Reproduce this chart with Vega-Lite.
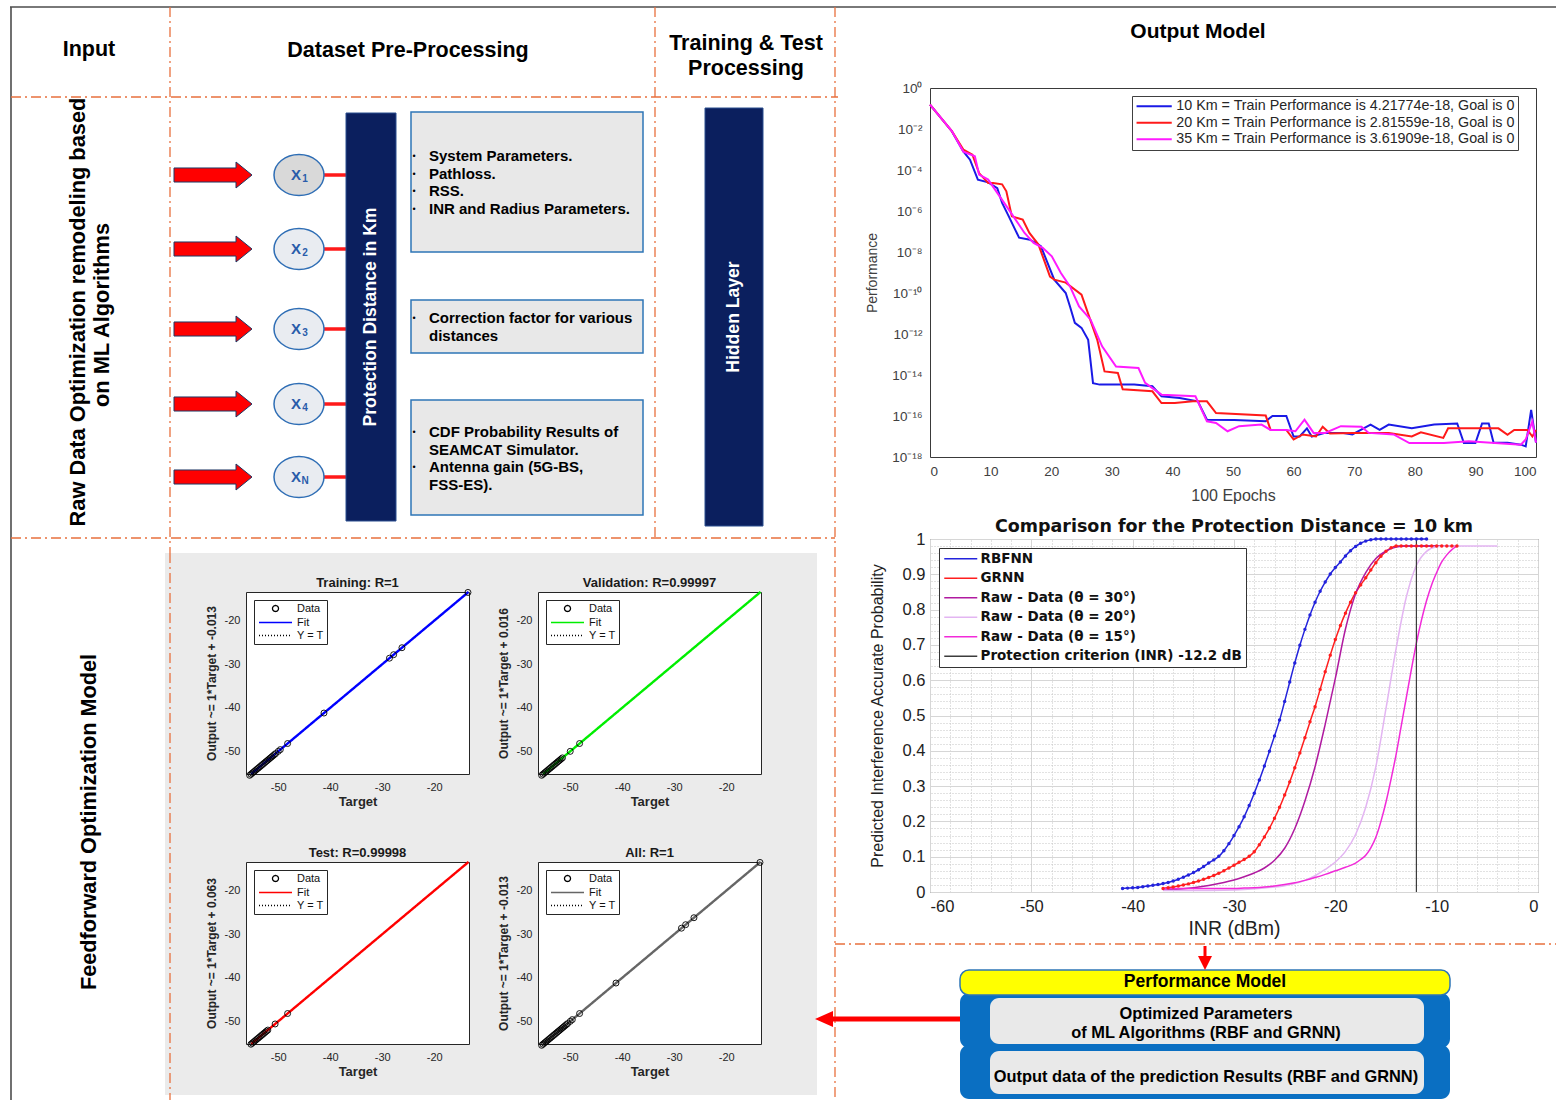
{
"$schema":"https://vega.github.io/schema/vega-lite/v6.json",
"padding":0,
"background":"white",
"bounds":"flush",
"spacing":930,
"config":{"view":{"stroke":null},"font":"Liberation Sans","axis":{"labelFont":"Liberation Sans","titleFont":"Liberation Sans"},"legend":{"labelFont":"Liberation Sans"},"title":{"font":"Liberation Sans"}},
"resolve":{"scale":{"color":"independent","shape":"independent","strokeDash":"independent","size":"independent"},"legend":{"color":"independent","shape":"independent","strokeDash":"independent","size":"independent"}},
"datasets":{
"perf":[
{"s":"10 Km","e":0,"p":1.55e-1},{"s":"10 Km","e":3.6,"p":7.8e-3},{"s":"10 Km","e":5.5,"p":8.1e-4},{"s":"10 Km","e":6.6,"p":3.2e-4},{"s":"10 Km","e":7.9,"p":3.4e-5},{"s":"10 Km","e":9.6,"p":2.5e-5},{"s":"10 Km","e":11.1,"p":1.3e-5},{"s":"10 Km","e":11.9,"p":2.5e-6},{"s":"10 Km","e":13,"p":5.5e-7},{"s":"10 Km","e":14.7,"p":5.0e-8},{"s":"10 Km","e":16.5,"p":4.0e-8},{"s":"10 Km","e":18.3,"p":1.9e-8},{"s":"10 Km","e":20.5,"p":4.5e-10},{"s":"10 Km","e":22.4,"p":1.0e-10},{"s":"10 Km","e":23.1,"p":2.2e-11},{"s":"10 Km","e":23.9,"p":3.5e-12},{"s":"10 Km","e":25,"p":2.0e-12},{"s":"10 Km","e":26.1,"p":5.2e-13},{"s":"10 Km","e":26.9,"p":4.0e-15},{"s":"10 Km","e":28,"p":3.4e-15},{"s":"10 Km","e":33.7,"p":3.4e-15},{"s":"10 Km","e":36.7,"p":2.8e-15},{"s":"10 Km","e":38.2,"p":9.1e-16},{"s":"10 Km","e":41.2,"p":7.6e-16},{"s":"10 Km","e":44.2,"p":5.2e-16},{"s":"10 Km","e":45.7,"p":6.6e-17},{"s":"10 Km","e":50.2,"p":6.3e-17},{"s":"10 Km","e":55.4,"p":5.5e-17},{"s":"10 Km","e":56.5,"p":1.0e-16},{"s":"10 Km","e":58.8,"p":1.0e-16},{"s":"10 Km","e":60,"p":1.0e-17},{"s":"10 Km","e":61,"p":1.0e-17},{"s":"10 Km","e":62.2,"p":2.5e-17},{"s":"10 Km","e":63,"p":1.0e-17},{"s":"10 Km","e":65.2,"p":1.5e-17},{"s":"10 Km","e":68.2,"p":1.5e-17},{"s":"10 Km","e":69.7,"p":1.26e-17},{"s":"10 Km","e":72.7,"p":3.8e-17},{"s":"10 Km","e":74.2,"p":2.1e-17},{"s":"10 Km","e":75.7,"p":3.8e-17},{"s":"10 Km","e":79.5,"p":2.5e-17},{"s":"10 Km","e":83.2,"p":3.8e-17},{"s":"10 Km","e":87,"p":4.3e-17},{"s":"10 Km","e":88.1,"p":4.8e-18},{"s":"10 Km","e":90,"p":4.8e-18},{"s":"10 Km","e":91.1,"p":4.3e-17},{"s":"10 Km","e":92.2,"p":4.3e-17},{"s":"10 Km","e":93,"p":5.0e-18},{"s":"10 Km","e":95.3,"p":5.0e-18},{"s":"10 Km","e":97.5,"p":4.0e-18},{"s":"10 Km","e":98.3,"p":3.3e-18},{"s":"10 Km","e":99.2,"p":2.0e-16},{"s":"10 Km","e":100,"p":5.0e-18},
{"s":"20 Km","e":0,"p":1.55e-1},{"s":"20 Km","e":3.6,"p":7.9e-3},{"s":"20 Km","e":5.5,"p":1.0e-3},{"s":"20 Km","e":7,"p":5.6e-4},{"s":"20 Km","e":8.1,"p":7.1e-5},{"s":"20 Km","e":9.6,"p":2.3e-5},{"s":"20 Km","e":10.4,"p":2.3e-5},{"s":"20 Km","e":11.9,"p":2.0e-5},{"s":"20 Km","e":12.6,"p":9.1e-6},{"s":"20 Km","e":13.5,"p":5.5e-7},{"s":"20 Km","e":15.3,"p":3.8e-7},{"s":"20 Km","e":16.4,"p":8.5e-8},{"s":"20 Km","e":17.9,"p":2.3e-8},{"s":"20 Km","e":19.8,"p":6.3e-10},{"s":"20 Km","e":20.5,"p":4.5e-10},{"s":"20 Km","e":22.4,"p":3.2e-10},{"s":"20 Km","e":25,"p":8.3e-11},{"s":"20 Km","e":27.6,"p":5.2e-13},{"s":"20 Km","e":28.8,"p":1.5e-14},{"s":"20 Km","e":31,"p":1.26e-14},{"s":"20 Km","e":31.8,"p":2.0e-15},{"s":"20 Km","e":36.7,"p":1.6e-15},{"s":"20 Km","e":38.2,"p":4.3e-16},{"s":"20 Km","e":40.4,"p":4.3e-16},{"s":"20 Km","e":43.4,"p":5.2e-16},{"s":"20 Km","e":45.7,"p":5.2e-16},{"s":"20 Km","e":47.2,"p":1.4e-16},{"s":"20 Km","e":55.4,"p":1.05e-16},{"s":"20 Km","e":56.2,"p":2.1e-17},{"s":"20 Km","e":58.8,"p":2.1e-17},{"s":"20 Km","e":60,"p":7.1e-18},{"s":"20 Km","e":61.5,"p":1.26e-17},{"s":"20 Km","e":63.7,"p":1.0e-17},{"s":"20 Km","e":64.8,"p":3.0e-17},{"s":"20 Km","e":66,"p":1.4e-17},{"s":"20 Km","e":69.7,"p":1.5e-17},{"s":"20 Km","e":75.7,"p":1.5e-17},{"s":"20 Km","e":79.5,"p":1.0e-17},{"s":"20 Km","e":81,"p":1.6e-17},{"s":"20 Km","e":84.7,"p":8.5e-18},{"s":"20 Km","e":85.5,"p":2.5e-17},{"s":"20 Km","e":93.8,"p":2.5e-17},{"s":"20 Km","e":95.3,"p":1.2e-17},{"s":"20 Km","e":96.4,"p":2.1e-17},{"s":"20 Km","e":98.6,"p":2.1e-17},{"s":"20 Km","e":99.4,"p":1.0e-17},{"s":"20 Km","e":100,"p":2.1e-17},
{"s":"35 Km","e":0,"p":1.55e-1},{"s":"35 Km","e":3.6,"p":7.9e-3},{"s":"35 Km","e":5.5,"p":7.9e-4},{"s":"35 Km","e":7.4,"p":4.7e-4},{"s":"35 Km","e":8.1,"p":5.9e-5},{"s":"35 Km","e":9.6,"p":3.4e-5},{"s":"35 Km","e":11.5,"p":5.2e-6},{"s":"35 Km","e":13.4,"p":7.9e-7},{"s":"35 Km","e":15.6,"p":8.5e-8},{"s":"35 Km","e":17.1,"p":2.8e-8},{"s":"35 Km","e":18.6,"p":1.6e-8},{"s":"35 Km","e":20.1,"p":6.2e-9},{"s":"35 Km","e":21.6,"p":9.5e-10},{"s":"35 Km","e":23.1,"p":2.1e-10},{"s":"35 Km","e":24.6,"p":2.2e-11},{"s":"35 Km","e":26.5,"p":5.0e-12},{"s":"35 Km","e":28.4,"p":2.5e-13},{"s":"35 Km","e":30.7,"p":2.6e-14},{"s":"35 Km","e":34.4,"p":2.2e-14},{"s":"35 Km","e":35.5,"p":4.1e-15},{"s":"35 Km","e":38.2,"p":1.1e-15},{"s":"35 Km","e":43.8,"p":9.1e-16},{"s":"35 Km","e":45.7,"p":5.5e-17},{"s":"35 Km","e":47.2,"p":4.6e-17},{"s":"35 Km","e":49.1,"p":1.8e-17},{"s":"35 Km","e":51,"p":3.2e-17},{"s":"35 Km","e":54.7,"p":3.8e-17},{"s":"35 Km","e":56.2,"p":2.1e-17},{"s":"35 Km","e":58.8,"p":2.1e-17},{"s":"35 Km","e":60.3,"p":1.8e-17},{"s":"35 Km","e":61.8,"p":6.6e-17},{"s":"35 Km","e":63.3,"p":1.5e-17},{"s":"35 Km","e":65.2,"p":1.5e-17},{"s":"35 Km","e":67.8,"p":3.2e-17},{"s":"35 Km","e":71.2,"p":3.0e-17},{"s":"35 Km","e":72.4,"p":1.5e-17},{"s":"35 Km","e":76.5,"p":1.26e-17},{"s":"35 Km","e":79.1,"p":4.8e-18},{"s":"35 Km","e":84.8,"p":4.8e-18},{"s":"35 Km","e":88.9,"p":5.8e-18},{"s":"35 Km","e":97.5,"p":4.0e-18},{"s":"35 Km","e":98.3,"p":7.1e-18},{"s":"35 Km","e":99.4,"p":5.5e-17},{"s":"35 Km","e":100,"p":5.0e-18}
],
"cdf":[
{"s":"RBFNN","x":-41,"y":0.010},{"s":"RBFNN","x":-40.5,"y":0.011},{"s":"RBFNN","x":-40,"y":0.012},{"s":"RBFNN","x":-39.5,"y":0.013},{"s":"RBFNN","x":-39,"y":0.015},{"s":"RBFNN","x":-38.5,"y":0.017},{"s":"RBFNN","x":-38,"y":0.019},{"s":"RBFNN","x":-37.5,"y":0.021},{"s":"RBFNN","x":-37,"y":0.024},{"s":"RBFNN","x":-36.5,"y":0.027},{"s":"RBFNN","x":-36,"y":0.031},{"s":"RBFNN","x":-35.5,"y":0.036},{"s":"RBFNN","x":-35,"y":0.042},{"s":"RBFNN","x":-34.5,"y":0.048},{"s":"RBFNN","x":-34,"y":0.055},{"s":"RBFNN","x":-33.5,"y":0.063},{"s":"RBFNN","x":-33,"y":0.072},{"s":"RBFNN","x":-32.5,"y":0.082},{"s":"RBFNN","x":-32,"y":0.091},{"s":"RBFNN","x":-31.5,"y":0.101},{"s":"RBFNN","x":-31,"y":0.117},{"s":"RBFNN","x":-30.5,"y":0.137},{"s":"RBFNN","x":-30,"y":0.160},{"s":"RBFNN","x":-29.5,"y":0.185},{"s":"RBFNN","x":-29,"y":0.213},{"s":"RBFNN","x":-28.5,"y":0.245},{"s":"RBFNN","x":-28,"y":0.280},{"s":"RBFNN","x":-27.5,"y":0.317},{"s":"RBFNN","x":-27,"y":0.357},{"s":"RBFNN","x":-26.5,"y":0.399},{"s":"RBFNN","x":-26,"y":0.442},{"s":"RBFNN","x":-25.5,"y":0.487},{"s":"RBFNN","x":-25,"y":0.540},{"s":"RBFNN","x":-24.5,"y":0.595},{"s":"RBFNN","x":-24,"y":0.649},{"s":"RBFNN","x":-23.5,"y":0.699},{"s":"RBFNN","x":-23,"y":0.744},{"s":"RBFNN","x":-22.5,"y":0.785},{"s":"RBFNN","x":-22,"y":0.821},{"s":"RBFNN","x":-21.5,"y":0.852},{"s":"RBFNN","x":-21,"y":0.878},{"s":"RBFNN","x":-20.5,"y":0.901},{"s":"RBFNN","x":-20,"y":0.919},{"s":"RBFNN","x":-19.5,"y":0.935},{"s":"RBFNN","x":-19,"y":0.952},{"s":"RBFNN","x":-18.5,"y":0.967},{"s":"RBFNN","x":-18,"y":0.979},{"s":"RBFNN","x":-17.5,"y":0.988},{"s":"RBFNN","x":-17,"y":0.994},{"s":"RBFNN","x":-16.5,"y":0.998},{"s":"RBFNN","x":-16,"y":1},{"s":"RBFNN","x":-15.5,"y":1},{"s":"RBFNN","x":-15,"y":1},{"s":"RBFNN","x":-14.5,"y":1},{"s":"RBFNN","x":-14,"y":1},{"s":"RBFNN","x":-13.5,"y":1},{"s":"RBFNN","x":-13,"y":1},{"s":"RBFNN","x":-12.5,"y":1},{"s":"RBFNN","x":-12,"y":1},{"s":"RBFNN","x":-11.5,"y":1},{"s":"RBFNN","x":-11,"y":1},
{"s":"GRNN","x":-37,"y":0.010},{"s":"GRNN","x":-36.5,"y":0.012},{"s":"GRNN","x":-36,"y":0.014},{"s":"GRNN","x":-35.5,"y":0.017},{"s":"GRNN","x":-35,"y":0.020},{"s":"GRNN","x":-34.5,"y":0.023},{"s":"GRNN","x":-34,"y":0.027},{"s":"GRNN","x":-33.5,"y":0.031},{"s":"GRNN","x":-33,"y":0.036},{"s":"GRNN","x":-32.5,"y":0.041},{"s":"GRNN","x":-32,"y":0.047},{"s":"GRNN","x":-31.5,"y":0.053},{"s":"GRNN","x":-31,"y":0.060},{"s":"GRNN","x":-30.5,"y":0.068},{"s":"GRNN","x":-30,"y":0.076},{"s":"GRNN","x":-29.5,"y":0.084},{"s":"GRNN","x":-29,"y":0.092},{"s":"GRNN","x":-28.5,"y":0.101},{"s":"GRNN","x":-28,"y":0.114},{"s":"GRNN","x":-27.5,"y":0.134},{"s":"GRNN","x":-27,"y":0.156},{"s":"GRNN","x":-26.5,"y":0.181},{"s":"GRNN","x":-26,"y":0.209},{"s":"GRNN","x":-25.5,"y":0.240},{"s":"GRNN","x":-25,"y":0.275},{"s":"GRNN","x":-24.5,"y":0.312},{"s":"GRNN","x":-24,"y":0.352},{"s":"GRNN","x":-23.5,"y":0.394},{"s":"GRNN","x":-23,"y":0.437},{"s":"GRNN","x":-22.5,"y":0.482},{"s":"GRNN","x":-22,"y":0.525},{"s":"GRNN","x":-21.5,"y":0.574},{"s":"GRNN","x":-21,"y":0.624},{"s":"GRNN","x":-20.5,"y":0.671},{"s":"GRNN","x":-20,"y":0.715},{"s":"GRNN","x":-19.5,"y":0.755},{"s":"GRNN","x":-19,"y":0.790},{"s":"GRNN","x":-18.5,"y":0.821},{"s":"GRNN","x":-18,"y":0.848},{"s":"GRNN","x":-17.5,"y":0.870},{"s":"GRNN","x":-17,"y":0.890},{"s":"GRNN","x":-16.5,"y":0.912},{"s":"GRNN","x":-16,"y":0.933},{"s":"GRNN","x":-15.5,"y":0.951},{"s":"GRNN","x":-15,"y":0.965},{"s":"GRNN","x":-14.5,"y":0.975},{"s":"GRNN","x":-14,"y":0.980},{"s":"GRNN","x":-13.5,"y":0.98},{"s":"GRNN","x":-13,"y":0.98},{"s":"GRNN","x":-12.5,"y":0.98},{"s":"GRNN","x":-12,"y":0.98},{"s":"GRNN","x":-11.5,"y":0.98},{"s":"GRNN","x":-11,"y":0.98},{"s":"GRNN","x":-10.5,"y":0.98},{"s":"GRNN","x":-10,"y":0.98},{"s":"GRNN","x":-9.5,"y":0.98},{"s":"GRNN","x":-9,"y":0.98},{"s":"GRNN","x":-8.5,"y":0.98},{"s":"GRNN","x":-8,"y":0.98},
{"s":"R30","x":-37,"y":0.005},{"s":"R30","x":-36,"y":0.007},{"s":"R30","x":-35,"y":0.009},{"s":"R30","x":-34,"y":0.012},{"s":"R30","x":-33,"y":0.016},{"s":"R30","x":-32,"y":0.021},{"s":"R30","x":-31,"y":0.027},{"s":"R30","x":-30,"y":0.034},{"s":"R30","x":-29,"y":0.043},{"s":"R30","x":-28,"y":0.054},{"s":"R30","x":-27,"y":0.068},{"s":"R30","x":-26,"y":0.090},{"s":"R30","x":-25,"y":0.124},{"s":"R30","x":-24,"y":0.180},{"s":"R30","x":-23,"y":0.258},{"s":"R30","x":-22,"y":0.355},{"s":"R30","x":-21,"y":0.475},{"s":"R30","x":-20,"y":0.605},{"s":"R30","x":-19,"y":0.745},{"s":"R30","x":-18.5,"y":0.800},{"s":"R30","x":-18,"y":0.845},{"s":"R30","x":-17,"y":0.905},{"s":"R30","x":-16,"y":0.945},{"s":"R30","x":-15,"y":0.966},{"s":"R30","x":-14,"y":0.977},{"s":"R30","x":-13,"y":0.980},{"s":"R30","x":-12,"y":0.98},{"s":"R30","x":-10,"y":0.98},{"s":"R30","x":-8,"y":0.98},
{"s":"R20","x":-37,"y":0.004},{"s":"R20","x":-34,"y":0.004},{"s":"R20","x":-31,"y":0.005},{"s":"R20","x":-29,"y":0.007},{"s":"R20","x":-27,"y":0.011},{"s":"R20","x":-26,"y":0.014},{"s":"R20","x":-25,"y":0.018},{"s":"R20","x":-24,"y":0.024},{"s":"R20","x":-23,"y":0.033},{"s":"R20","x":-22,"y":0.046},{"s":"R20","x":-21,"y":0.064},{"s":"R20","x":-20,"y":0.085},{"s":"R20","x":-19,"y":0.115},{"s":"R20","x":-18,"y":0.163},{"s":"R20","x":-17,"y":0.240},{"s":"R20","x":-16,"y":0.355},{"s":"R20","x":-15,"y":0.520},{"s":"R20","x":-14,"y":0.690},{"s":"R20","x":-13,"y":0.835},{"s":"R20","x":-12,"y":0.925},{"s":"R20","x":-11,"y":0.965},{"s":"R20","x":-10,"y":0.978},{"s":"R20","x":-9,"y":0.980},{"s":"R20","x":-7,"y":0.98},{"s":"R20","x":-4,"y":0.98},
{"s":"R15","x":-37,"y":0.010},{"s":"R15","x":-33,"y":0.010},{"s":"R15","x":-30,"y":0.010},{"s":"R15","x":-29,"y":0.011},{"s":"R15","x":-28,"y":0.012},{"s":"R15","x":-27,"y":0.014},{"s":"R15","x":-26,"y":0.017},{"s":"R15","x":-25,"y":0.021},{"s":"R15","x":-24,"y":0.026},{"s":"R15","x":-23,"y":0.033},{"s":"R15","x":-22,"y":0.041},{"s":"R15","x":-21,"y":0.050},{"s":"R15","x":-20,"y":0.060},{"s":"R15","x":-19,"y":0.070},{"s":"R15","x":-18,"y":0.082},{"s":"R15","x":-17.5,"y":0.092},{"s":"R15","x":-17,"y":0.104},{"s":"R15","x":-16.5,"y":0.125},{"s":"R15","x":-16,"y":0.155},{"s":"R15","x":-15.5,"y":0.200},{"s":"R15","x":-15,"y":0.255},{"s":"R15","x":-14.5,"y":0.320},{"s":"R15","x":-14,"y":0.390},{"s":"R15","x":-13.5,"y":0.470},{"s":"R15","x":-13,"y":0.550},{"s":"R15","x":-12.5,"y":0.630},{"s":"R15","x":-12,"y":0.705},{"s":"R15","x":-11.5,"y":0.770},{"s":"R15","x":-11,"y":0.825},{"s":"R15","x":-10.5,"y":0.870},{"s":"R15","x":-10,"y":0.905},{"s":"R15","x":-9.5,"y":0.935},{"s":"R15","x":-9,"y":0.955},{"s":"R15","x":-8.5,"y":0.970},{"s":"R15","x":-8,"y":0.980},
{"s":"PC","x":-12,"y":0},{"s":"PC","x":-12,"y":1}
],
"reglines":[{"k":"Fit","t":-55.2,"o":-55.2},{"k":"Fit","t":-13.4,"o":-13.4},{"k":"Y = T","t":-55.2,"o":-55.2},{"k":"Y = T","t":-13.4,"o":-13.4}],
"rtrain":[{"k":"Data","t":-55.5,"o":-55.5},{"k":"Data","t":-55.25,"o":-55.25},{"k":"Data","t":-55,"o":-55},{"k":"Data","t":-54.75,"o":-54.75},{"k":"Data","t":-54.5,"o":-54.5},{"k":"Data","t":-54.25,"o":-54.25},{"k":"Data","t":-54,"o":-54},{"k":"Data","t":-53.75,"o":-53.75},{"k":"Data","t":-53.5,"o":-53.5},{"k":"Data","t":-53.25,"o":-53.25},{"k":"Data","t":-53,"o":-53},{"k":"Data","t":-52.75,"o":-52.75},{"k":"Data","t":-52.5,"o":-52.5},{"k":"Data","t":-52.25,"o":-52.25},{"k":"Data","t":-52,"o":-52},{"k":"Data","t":-51.75,"o":-51.75},{"k":"Data","t":-51.5,"o":-51.5},{"k":"Data","t":-51.25,"o":-51.25},{"k":"Data","t":-51,"o":-51},{"k":"Data","t":-50.75,"o":-50.75},{"k":"Data","t":-50.5,"o":-50.5},{"k":"Data","t":-50,"o":-50},{"k":"Data","t":-49.6,"o":-49.6},{"k":"Data","t":-48.2,"o":-48.2},{"k":"Data","t":-41.2,"o":-41.2},{"k":"Data","t":-28.6,"o":-28.6},{"k":"Data","t":-27.8,"o":-27.8},{"k":"Data","t":-26.2,"o":-26.2},{"k":"Data","t":-13.5,"o":-13.5}],
"rval":[{"k":"Data","t":-55.5,"o":-55.5},{"k":"Data","t":-55.25,"o":-55.25},{"k":"Data","t":-55,"o":-55},{"k":"Data","t":-54.75,"o":-54.75},{"k":"Data","t":-54.5,"o":-54.5},{"k":"Data","t":-54.25,"o":-54.25},{"k":"Data","t":-54,"o":-54},{"k":"Data","t":-53.75,"o":-53.75},{"k":"Data","t":-53.5,"o":-53.5},{"k":"Data","t":-53.25,"o":-53.25},{"k":"Data","t":-53,"o":-53},{"k":"Data","t":-52.75,"o":-52.75},{"k":"Data","t":-52.5,"o":-52.5},{"k":"Data","t":-52.25,"o":-52.25},{"k":"Data","t":-52,"o":-52},{"k":"Data","t":-51.75,"o":-51.75},{"k":"Data","t":-51.5,"o":-51.5},{"k":"Data","t":-50,"o":-50},{"k":"Data","t":-48.2,"o":-48.2}],
"rtest":[{"k":"Data","t":-55.25,"o":-55.25},{"k":"Data","t":-55,"o":-55},{"k":"Data","t":-54.75,"o":-54.75},{"k":"Data","t":-54.5,"o":-54.5},{"k":"Data","t":-54.25,"o":-54.25},{"k":"Data","t":-54,"o":-54},{"k":"Data","t":-53.75,"o":-53.75},{"k":"Data","t":-53.5,"o":-53.5},{"k":"Data","t":-53.25,"o":-53.25},{"k":"Data","t":-53,"o":-53},{"k":"Data","t":-52.75,"o":-52.75},{"k":"Data","t":-52.5,"o":-52.5},{"k":"Data","t":-52.25,"o":-52.25},{"k":"Data","t":-52,"o":-52},{"k":"Data","t":-50.6,"o":-50.6},{"k":"Data","t":-48.2,"o":-48.2}],
"rall":[{"k":"Data","t":-55.5,"o":-55.5},{"k":"Data","t":-55.25,"o":-55.25},{"k":"Data","t":-55,"o":-55},{"k":"Data","t":-54.75,"o":-54.75},{"k":"Data","t":-54.5,"o":-54.5},{"k":"Data","t":-54.25,"o":-54.25},{"k":"Data","t":-54,"o":-54},{"k":"Data","t":-53.75,"o":-53.75},{"k":"Data","t":-53.5,"o":-53.5},{"k":"Data","t":-53.25,"o":-53.25},{"k":"Data","t":-53,"o":-53},{"k":"Data","t":-52.75,"o":-52.75},{"k":"Data","t":-52.5,"o":-52.5},{"k":"Data","t":-52.25,"o":-52.25},{"k":"Data","t":-52,"o":-52},{"k":"Data","t":-51.75,"o":-51.75},{"k":"Data","t":-51.5,"o":-51.5},{"k":"Data","t":-51.25,"o":-51.25},{"k":"Data","t":-51,"o":-51},{"k":"Data","t":-50.75,"o":-50.75},{"k":"Data","t":-50.5,"o":-50.5},{"k":"Data","t":-50,"o":-50},{"k":"Data","t":-49.6,"o":-49.6},{"k":"Data","t":-48.2,"o":-48.2},{"k":"Data","t":-41.2,"o":-41.2},{"k":"Data","t":-28.6,"o":-28.6},{"k":"Data","t":-27.8,"o":-27.8},{"k":"Data","t":-26.2,"o":-26.2},{"k":"Data","t":-13.5,"o":-13.5}]
},
"hconcat":[
{"vconcat":[
 {"width":835,"height":592,
  "encoding":{"x":{"field":"x","type":"quantitative","scale":{"domain":[0,835],"nice":false,"zero":false},"axis":null},"y":{"field":"y","type":"quantitative","scale":{"domain":[0,592],"nice":false,"zero":false,"reverse":true},"axis":null}},
  "layer":[
   {"data":{"values":[{"x":10,"y":7,"x2":1556,"y2":7},{"x":11,"y":7,"x2":11,"y2":1100}]},"mark":{"type":"rule","color":"#4d4d4d","strokeWidth":1.6},"encoding":{"x2":{"field":"x2"},"y2":{"field":"y2"}}},
   {"data":{"values":[{"x":11,"y":97,"x2":838,"y2":97},{"x":11,"y":538,"x2":835,"y2":538},{"x":170,"y":7,"x2":170,"y2":553},{"x":655,"y":7,"x2":655,"y2":538},{"x":835,"y":7,"x2":835,"y2":1100},{"x":835,"y":944,"x2":1556,"y2":944}]},"mark":{"type":"rule","color":"#e8703e","strokeWidth":1.3,"strokeDash":[10,4,2,4]},"encoding":{"x2":{"field":"x2"},"y2":{"field":"y2"}}},
   {"data":{"values":[{"x":89,"y":50,"t":"Input"},{"x":408,"y":51,"t":"Dataset Pre-Processing"},{"x":746,"y":44,"t":"Training & Test"},{"x":746,"y":69,"t":"Processing"}]},"mark":{"type":"text","fontSize":21.5,"fontWeight":"bold","color":"#000000","baseline":"middle","align":"center"},"encoding":{"text":{"field":"t"}}},
   {"data":{"values":[{"x":78,"y":312,"t":"Raw Data Optimization remodeling based"},{"x":102,"y":315,"t":"on ML Algorithms"}]},"mark":{"type":"text","fontSize":21.8,"fontWeight":"bold","color":"#000000","baseline":"middle","align":"center","angle":270},"encoding":{"text":{"field":"t"}}},
   {"data":{"values":[{"x":213,"y":175},{"x":213,"y":249},{"x":213,"y":329},{"x":213,"y":404},{"x":213,"y":477}]},"mark":{"type":"point","shape":"M-1,-0.18L0.59,-0.18L0.59,-0.333L1,0L0.59,0.333L0.59,0.18L-1,0.18Z","size":6084,"filled":true,"color":"#ff0000","stroke":"#1f3864","strokeWidth":1,"opacity":1}},
   {"data":{"values":[{"x":324,"x2":346,"y":175},{"x":324,"x2":346,"y":249},{"x":324,"x2":346,"y":329},{"x":324,"x2":346,"y":404},{"x":324,"x2":346,"y":477}]},"mark":{"type":"rule","color":"#ff1a1a","strokeWidth":3.5},"encoding":{"x2":{"field":"x2"}}},
   {"data":{"values":[{"x":299,"y":175,"sub":"1"},{"x":299,"y":249,"sub":"2"},{"x":299,"y":329,"sub":"3"},{"x":299,"y":404,"sub":"4"},{"x":299,"y":477,"sub":"N"}]},"mark":{"type":"point","shape":"M-1,0C-1,-0.453,-0.5523,-0.82,0,-0.82C0.5523,-0.82,1,-0.453,1,0C1,0.453,0.5523,0.82,0,0.82C-0.5523,0.82,-1,0.453,-1,0Z","size":2500,"filled":true,"stroke":"#2f6eb5","strokeWidth":1.5,"opacity":1},"encoding":{"fill":{"condition":{"test":"datum.sub == '1'","value":"#d9d9d9"},"value":"#e9ecf1"}}},
   {"data":{"values":[{"x":299,"y":175},{"x":299,"y":249},{"x":299,"y":329},{"x":299,"y":404},{"x":299,"y":477}]},"mark":{"type":"text","fontSize":15,"fontWeight":"bold","color":"#2a5caa","baseline":"middle","align":"center","dx":-3},"encoding":{"text":{"value":"X"}}},
   {"data":{"values":[{"x":299,"y":175,"sub":"1"},{"x":299,"y":249,"sub":"2"},{"x":299,"y":329,"sub":"3"},{"x":299,"y":404,"sub":"4"},{"x":299,"y":477,"sub":"N"}]},"mark":{"type":"text","fontSize":10,"fontWeight":"bold","color":"#2a5caa","baseline":"middle","align":"center","dx":6,"dy":4},"encoding":{"text":{"field":"sub"}}},
   {"data":{"values":[{"x":346,"y":113,"x2":396,"y2":521},{"x":705,"y":108,"x2":763,"y2":526}]},"mark":{"type":"rect","fill":"#0b1f5e","stroke":"#2a4f8f","strokeWidth":1},"encoding":{"x2":{"field":"x2"},"y2":{"field":"y2"}}},
   {"data":{"values":[{"x":371,"y":317,"t":"Protection Distance in Km"},{"x":734,"y":317,"t":"Hidden Layer"}]},"mark":{"type":"text","fontSize":17.6,"fontWeight":"bold","color":"#ffffff","baseline":"middle","align":"center","angle":270},"encoding":{"text":{"field":"t"}}},
   {"data":{"values":[{"x":411,"y":112,"x2":643,"y2":252},{"x":411,"y":300,"x2":643,"y2":353},{"x":411,"y":400,"x2":643,"y2":515}]},"mark":{"type":"rect","fill":"#e8e8e8","stroke":"#2e75b6","strokeWidth":1.5},"encoding":{"x2":{"field":"x2"},"y2":{"field":"y2"}}},
   {"data":{"values":[{"x":414,"y":156},{"x":414,"y":174},{"x":414,"y":191},{"x":414,"y":209},{"x":414,"y":318},{"x":414,"y":432},{"x":414,"y":467}]},"mark":{"type":"text","fontSize":9,"color":"#000000","baseline":"middle","align":"center"},"encoding":{"text":{"value":"•"}}},
   {"data":{"values":[{"x":429,"y":156,"t":"System Parameters."},{"x":429,"y":174,"t":"Pathloss."},{"x":429,"y":191,"t":"RSS."},{"x":429,"y":209,"t":"INR and Radius Parameters."},{"x":429,"y":318,"t":"Correction factor for various"},{"x":429,"y":336,"t":"distances"},{"x":429,"y":432,"t":"CDF Probability Results of"},{"x":429,"y":450,"t":"SEAMCAT Simulator."},{"x":429,"y":467,"t":"Antenna gain (5G-BS,"},{"x":429,"y":485,"t":"FSS-ES)."}]},"mark":{"type":"text","fontSize":15,"fontWeight":"bold","color":"#000000","baseline":"middle","align":"left"},"encoding":{"text":{"field":"t"}}},
   {"data":{"values":[{"x":960,"y":993,"x2":1450,"y2":1048},{"x":960,"y":1045,"x2":1450,"y2":1099}]},"mark":{"type":"rect","fill":"#0a6fc2","cornerRadius":9},"encoding":{"x2":{"field":"x2"},"y2":{"field":"y2"}}},
   {"data":{"values":[{"x":960,"y":970,"x2":1450,"y2":995}]},"mark":{"type":"rect","fill":"#ffff00","stroke":"#2e75b6","strokeWidth":1.5,"cornerRadius":9},"encoding":{"x2":{"field":"x2"},"y2":{"field":"y2"}}},
   {"data":{"values":[{"x":990,"y":998,"x2":1424,"y2":1044},{"x":990,"y":1051,"x2":1424,"y2":1094}]},"mark":{"type":"rect","fill":"#e9e9e9","cornerRadius":9},"encoding":{"x2":{"field":"x2"},"y2":{"field":"y2"}}},
   {"data":{"values":[{"x":1205,"y":982,"t":"Performance Model"}]},"mark":{"type":"text","fontSize":17.5,"fontWeight":"bold","color":"#000000","baseline":"middle","align":"center"},"encoding":{"text":{"field":"t"}}},
   {"data":{"values":[{"x":1206,"y":1014,"t":"Optimized Parameters"},{"x":1206,"y":1033,"t":"of ML Algorithms (RBF and GRNN)"},{"x":1206,"y":1077,"t":"Output data of the prediction Results (RBF and GRNN)"}]},"mark":{"type":"text","fontSize":16.4,"fontWeight":"bold","color":"#000000","baseline":"middle","align":"center"},"encoding":{"text":{"field":"t"}}},
   {"data":{"values":[{"x":1205,"y":946,"x2":1205,"y2":958}]},"mark":{"type":"rule","color":"#ff0000","strokeWidth":3},"encoding":{"x2":{"field":"x2"},"y2":{"field":"y2"}}},
   {"data":{"values":[{"x":1205,"y":963}]},"mark":{"type":"point","shape":"M-1,-1L1,-1L0,1Z","size":196,"filled":true,"color":"#ff0000","opacity":1}}
  ]},
 {"hconcat":[
  {"width":246,"height":508,
   "encoding":{"x":{"field":"x","type":"quantitative","scale":{"domain":[0,246],"nice":false,"zero":false},"axis":null},"y":{"field":"y","type":"quantitative","scale":{"domain":[592,1100],"nice":false,"zero":false,"reverse":true},"axis":null}},
   "layer":[
    {"data":{"values":[{"x":165,"y":553,"x2":817,"y2":1095}]},"mark":{"type":"rect","fill":"#ebebeb"},"encoding":{"x2":{"field":"x2"},"y2":{"field":"y2"}}},
    {"data":{"values":[{"x":170,"y":553,"x2":170,"y2":1100}]},"mark":{"type":"rule","color":"#e8703e","strokeWidth":1.3,"strokeDash":[10,4,2,4]},"encoding":{"x2":{"field":"x2"},"y2":{"field":"y2"}}},
    {"data":{"values":[{"x":89,"y":822,"t":"Feedforward Optimization Model"}]},"mark":{"type":"text","fontSize":21.7,"fontWeight":"bold","color":"#000000","baseline":"middle","align":"center","angle":270},"encoding":{"text":{"field":"t"}}},
    {"data":{"values":[{"x":831,"y":1019,"x2":960}]},"mark":{"type":"rule","color":"#ff0000","strokeWidth":5},"encoding":{"x2":{"field":"x2"}}},
    {"data":{"values":[{"x":824,"y":1019}]},"mark":{"type":"point","shape":"M1,-0.9L1,0.9L-1,0Z","size":324,"filled":true,"color":"#ff0000","opacity":1}}
   ]},
  {"vconcat":[
   {"hconcat":[
    {"width":223,"height":182,"view":{"stroke":"#262626","fill":"white"},
     "title":{"text":"Training: R=1","fontSize":13,"fontWeight":"bold","offset":-3,"color":"#1a1a1a"},
     "encoding":{
      "x":{"field":"t","type":"quantitative","scale":{"domain":[-56.2,-13.3],"nice":false,"zero":false},"axis":{"values":[-50,-40,-30,-20],"labelExpr":"replace(datum.label, '−', '-')","title":"Target","grid":false,"domain":false,"ticks":false,"labelFontSize":11,"labelColor":"#262626","labelPadding":7,"titleFontSize":13,"titleFontWeight":"bold","titleColor":"#262626","titlePadding":3}},
      "y":{"field":"o","type":"quantitative","scale":{"domain":[-55.2,-13.4],"nice":false,"zero":false},"axis":{"values":[-50,-40,-30,-20],"labelExpr":"replace(datum.label, '−', '-')","title":"Output ~= 1*Target + -0.013","grid":false,"domain":false,"ticks":false,"labelFontSize":11,"labelColor":"#262626","labelPadding":6,"titleFontSize":12,"titleFontWeight":"bold","titleColor":"#262626","titlePadding":6}},
      "color":{"field":"k","type":"nominal","scale":{"domain":["Data","Fit","Y = T"],"range":["#000000","#0000ff","#000000"]},"legend":{"orient":"top-left","offset":8,"title":null,"labelFontSize":11,"labelColor":"#111111","fillColor":"white","strokeColor":"#262626","padding":3,"rowPadding":1,"symbolSize":36,"symbolOffset":13,"labelOffset":16,"symbolStrokeWidth":1.3}}},
     "layer":[
      {"data":{"name":"reglines"},"transform":[{"filter":"datum.k == 'Y = T'"}],"mark":{"type":"line","strokeWidth":1},"encoding":{"strokeDash":{"field":"k","type":"nominal","scale":{"domain":["Data","Fit","Y = T"],"range":[[1,0],[1,0],[1,2]]},"legend":{"orient":"top-left","offset":8,"title":null,"labelFontSize":11,"labelColor":"#111111","fillColor":"white","strokeColor":"#262626","padding":3,"rowPadding":1,"symbolSize":36,"symbolOffset":13,"labelOffset":16,"symbolStrokeWidth":1.3}}}},
      {"data":{"name":"reglines"},"transform":[{"filter":"datum.k == 'Fit'"}],"mark":{"type":"line","strokeWidth":2.4},"encoding":{"strokeDash":{"field":"k","type":"nominal","scale":{"domain":["Data","Fit","Y = T"],"range":[[1,0],[1,0],[1,2]]},"legend":{"orient":"top-left","offset":8,"title":null,"labelFontSize":11,"labelColor":"#111111","fillColor":"white","strokeColor":"#262626","padding":3,"rowPadding":1,"symbolSize":36,"symbolOffset":13,"labelOffset":16,"symbolStrokeWidth":1.3}}}},
      {"data":{"name":"rtrain"},"mark":{"type":"point","filled":false,"size":36,"strokeWidth":0.9,"opacity":1},"encoding":{"shape":{"field":"k","type":"nominal","scale":{"domain":["Data","Fit","Y = T"],"range":["circle","M-5.5,0L5.5,0","M-5.5,0L5.5,0"]},"legend":{"orient":"top-left","offset":8,"title":null,"labelFontSize":11,"labelColor":"#111111","fillColor":"white","strokeColor":"#262626","padding":3,"rowPadding":1,"symbolSize":36,"symbolOffset":13,"labelOffset":16,"symbolStrokeWidth":1.3}}}}
     ]},
    {"width":223,"height":182,"view":{"stroke":"#262626","fill":"white"},
     "title":{"text":"Validation: R=0.99997","fontSize":13,"fontWeight":"bold","offset":-3,"color":"#1a1a1a"},
     "encoding":{
      "x":{"field":"t","type":"quantitative","scale":{"domain":[-56.2,-13.3],"nice":false,"zero":false},"axis":{"values":[-50,-40,-30,-20],"labelExpr":"replace(datum.label, '−', '-')","title":"Target","grid":false,"domain":false,"ticks":false,"labelFontSize":11,"labelColor":"#262626","labelPadding":7,"titleFontSize":13,"titleFontWeight":"bold","titleColor":"#262626","titlePadding":3}},
      "y":{"field":"o","type":"quantitative","scale":{"domain":[-55.2,-13.4],"nice":false,"zero":false},"axis":{"values":[-50,-40,-30,-20],"labelExpr":"replace(datum.label, '−', '-')","title":"Output ~= 1*Target + 0.016","grid":false,"domain":false,"ticks":false,"labelFontSize":11,"labelColor":"#262626","labelPadding":6,"titleFontSize":12,"titleFontWeight":"bold","titleColor":"#262626","titlePadding":6}},
      "color":{"field":"k","type":"nominal","scale":{"domain":["Data","Fit","Y = T"],"range":["#000000","#00ee00","#000000"]},"legend":{"orient":"top-left","offset":8,"title":null,"labelFontSize":11,"labelColor":"#111111","fillColor":"white","strokeColor":"#262626","padding":3,"rowPadding":1,"symbolSize":36,"symbolOffset":13,"labelOffset":16,"symbolStrokeWidth":1.3}}},
     "layer":[
      {"data":{"name":"reglines"},"transform":[{"filter":"datum.k == 'Y = T'"}],"mark":{"type":"line","strokeWidth":1},"encoding":{"strokeDash":{"field":"k","type":"nominal","scale":{"domain":["Data","Fit","Y = T"],"range":[[1,0],[1,0],[1,2]]},"legend":{"orient":"top-left","offset":8,"title":null,"labelFontSize":11,"labelColor":"#111111","fillColor":"white","strokeColor":"#262626","padding":3,"rowPadding":1,"symbolSize":36,"symbolOffset":13,"labelOffset":16,"symbolStrokeWidth":1.3}}}},
      {"data":{"name":"reglines"},"transform":[{"filter":"datum.k == 'Fit'"}],"mark":{"type":"line","strokeWidth":2.4},"encoding":{"strokeDash":{"field":"k","type":"nominal","scale":{"domain":["Data","Fit","Y = T"],"range":[[1,0],[1,0],[1,2]]},"legend":{"orient":"top-left","offset":8,"title":null,"labelFontSize":11,"labelColor":"#111111","fillColor":"white","strokeColor":"#262626","padding":3,"rowPadding":1,"symbolSize":36,"symbolOffset":13,"labelOffset":16,"symbolStrokeWidth":1.3}}}},
      {"data":{"name":"rval"},"mark":{"type":"point","filled":false,"size":36,"strokeWidth":0.9,"opacity":1},"encoding":{"shape":{"field":"k","type":"nominal","scale":{"domain":["Data","Fit","Y = T"],"range":["circle","M-5.5,0L5.5,0","M-5.5,0L5.5,0"]},"legend":{"orient":"top-left","offset":8,"title":null,"labelFontSize":11,"labelColor":"#111111","fillColor":"white","strokeColor":"#262626","padding":3,"rowPadding":1,"symbolSize":36,"symbolOffset":13,"labelOffset":16,"symbolStrokeWidth":1.3}}}}
     ]}
   ],"spacing":69,"bounds":"flush","resolve":{"scale":{"color":"independent","shape":"independent","strokeDash":"independent","size":"independent"},"legend":{"color":"independent","shape":"independent","strokeDash":"independent","size":"independent"}}},
   {"hconcat":[
    {"width":223,"height":182,"view":{"stroke":"#262626","fill":"white"},
     "title":{"text":"Test: R=0.99998","fontSize":13,"fontWeight":"bold","offset":-3,"color":"#1a1a1a"},
     "encoding":{
      "x":{"field":"t","type":"quantitative","scale":{"domain":[-56.2,-13.3],"nice":false,"zero":false},"axis":{"values":[-50,-40,-30,-20],"labelExpr":"replace(datum.label, '−', '-')","title":"Target","grid":false,"domain":false,"ticks":false,"labelFontSize":11,"labelColor":"#262626","labelPadding":7,"titleFontSize":13,"titleFontWeight":"bold","titleColor":"#262626","titlePadding":3}},
      "y":{"field":"o","type":"quantitative","scale":{"domain":[-55.2,-13.4],"nice":false,"zero":false},"axis":{"values":[-50,-40,-30,-20],"labelExpr":"replace(datum.label, '−', '-')","title":"Output ~= 1*Target + 0.063","grid":false,"domain":false,"ticks":false,"labelFontSize":11,"labelColor":"#262626","labelPadding":6,"titleFontSize":12,"titleFontWeight":"bold","titleColor":"#262626","titlePadding":6}},
      "color":{"field":"k","type":"nominal","scale":{"domain":["Data","Fit","Y = T"],"range":["#000000","#ff0000","#000000"]},"legend":{"orient":"top-left","offset":8,"title":null,"labelFontSize":11,"labelColor":"#111111","fillColor":"white","strokeColor":"#262626","padding":3,"rowPadding":1,"symbolSize":36,"symbolOffset":13,"labelOffset":16,"symbolStrokeWidth":1.3}}},
     "layer":[
      {"data":{"name":"reglines"},"transform":[{"filter":"datum.k == 'Y = T'"}],"mark":{"type":"line","strokeWidth":1},"encoding":{"strokeDash":{"field":"k","type":"nominal","scale":{"domain":["Data","Fit","Y = T"],"range":[[1,0],[1,0],[1,2]]},"legend":{"orient":"top-left","offset":8,"title":null,"labelFontSize":11,"labelColor":"#111111","fillColor":"white","strokeColor":"#262626","padding":3,"rowPadding":1,"symbolSize":36,"symbolOffset":13,"labelOffset":16,"symbolStrokeWidth":1.3}}}},
      {"data":{"name":"reglines"},"transform":[{"filter":"datum.k == 'Fit'"}],"mark":{"type":"line","strokeWidth":2.4},"encoding":{"strokeDash":{"field":"k","type":"nominal","scale":{"domain":["Data","Fit","Y = T"],"range":[[1,0],[1,0],[1,2]]},"legend":{"orient":"top-left","offset":8,"title":null,"labelFontSize":11,"labelColor":"#111111","fillColor":"white","strokeColor":"#262626","padding":3,"rowPadding":1,"symbolSize":36,"symbolOffset":13,"labelOffset":16,"symbolStrokeWidth":1.3}}}},
      {"data":{"name":"rtest"},"mark":{"type":"point","filled":false,"size":36,"strokeWidth":0.9,"opacity":1},"encoding":{"shape":{"field":"k","type":"nominal","scale":{"domain":["Data","Fit","Y = T"],"range":["circle","M-5.5,0L5.5,0","M-5.5,0L5.5,0"]},"legend":{"orient":"top-left","offset":8,"title":null,"labelFontSize":11,"labelColor":"#111111","fillColor":"white","strokeColor":"#262626","padding":3,"rowPadding":1,"symbolSize":36,"symbolOffset":13,"labelOffset":16,"symbolStrokeWidth":1.3}}}}
     ]},
    {"width":223,"height":182,"view":{"stroke":"#262626","fill":"white"},
     "title":{"text":"All: R=1","fontSize":13,"fontWeight":"bold","offset":-3,"color":"#1a1a1a"},
     "encoding":{
      "x":{"field":"t","type":"quantitative","scale":{"domain":[-56.2,-13.3],"nice":false,"zero":false},"axis":{"values":[-50,-40,-30,-20],"labelExpr":"replace(datum.label, '−', '-')","title":"Target","grid":false,"domain":false,"ticks":false,"labelFontSize":11,"labelColor":"#262626","labelPadding":7,"titleFontSize":13,"titleFontWeight":"bold","titleColor":"#262626","titlePadding":3}},
      "y":{"field":"o","type":"quantitative","scale":{"domain":[-55.2,-13.4],"nice":false,"zero":false},"axis":{"values":[-50,-40,-30,-20],"labelExpr":"replace(datum.label, '−', '-')","title":"Output ~= 1*Target + -0.013","grid":false,"domain":false,"ticks":false,"labelFontSize":11,"labelColor":"#262626","labelPadding":6,"titleFontSize":12,"titleFontWeight":"bold","titleColor":"#262626","titlePadding":6}},
      "color":{"field":"k","type":"nominal","scale":{"domain":["Data","Fit","Y = T"],"range":["#000000","#666666","#000000"]},"legend":{"orient":"top-left","offset":8,"title":null,"labelFontSize":11,"labelColor":"#111111","fillColor":"white","strokeColor":"#262626","padding":3,"rowPadding":1,"symbolSize":36,"symbolOffset":13,"labelOffset":16,"symbolStrokeWidth":1.3}}},
     "layer":[
      {"data":{"name":"reglines"},"transform":[{"filter":"datum.k == 'Y = T'"}],"mark":{"type":"line","strokeWidth":1},"encoding":{"strokeDash":{"field":"k","type":"nominal","scale":{"domain":["Data","Fit","Y = T"],"range":[[1,0],[1,0],[1,2]]},"legend":{"orient":"top-left","offset":8,"title":null,"labelFontSize":11,"labelColor":"#111111","fillColor":"white","strokeColor":"#262626","padding":3,"rowPadding":1,"symbolSize":36,"symbolOffset":13,"labelOffset":16,"symbolStrokeWidth":1.3}}}},
      {"data":{"name":"reglines"},"transform":[{"filter":"datum.k == 'Fit'"}],"mark":{"type":"line","strokeWidth":2.4},"encoding":{"strokeDash":{"field":"k","type":"nominal","scale":{"domain":["Data","Fit","Y = T"],"range":[[1,0],[1,0],[1,2]]},"legend":{"orient":"top-left","offset":8,"title":null,"labelFontSize":11,"labelColor":"#111111","fillColor":"white","strokeColor":"#262626","padding":3,"rowPadding":1,"symbolSize":36,"symbolOffset":13,"labelOffset":16,"symbolStrokeWidth":1.3}}}},
      {"data":{"name":"rall"},"mark":{"type":"point","filled":false,"size":36,"strokeWidth":0.9,"opacity":1},"encoding":{"shape":{"field":"k","type":"nominal","scale":{"domain":["Data","Fit","Y = T"],"range":["circle","M-5.5,0L5.5,0","M-5.5,0L5.5,0"]},"legend":{"orient":"top-left","offset":8,"title":null,"labelFontSize":11,"labelColor":"#111111","fillColor":"white","strokeColor":"#262626","padding":3,"rowPadding":1,"symbolSize":36,"symbolOffset":13,"labelOffset":16,"symbolStrokeWidth":1.3}}}}
     ]}
   ],"spacing":69,"bounds":"flush","resolve":{"scale":{"color":"independent","shape":"independent","strokeDash":"independent","size":"independent"},"legend":{"color":"independent","shape":"independent","strokeDash":"independent","size":"independent"}}}
  ],"spacing":270,"bounds":"flush","resolve":{"scale":{"color":"independent","shape":"independent","strokeDash":"independent","size":"independent"},"legend":{"color":"independent","shape":"independent","strokeDash":"independent","size":"independent"}}}
 ],"spacing":0,"bounds":"flush","resolve":{"scale":{"color":"independent","shape":"independent","strokeDash":"independent","size":"independent"},"legend":{"color":"independent","shape":"independent","strokeDash":"independent","size":"independent"}}}
],"spacing":0,"bounds":"flush","resolve":{"scale":{"color":"independent","shape":"independent","strokeDash":"independent","size":"independent"},"legend":{"color":"independent","shape":"independent","strokeDash":"independent","size":"independent"}}},
{"vconcat":[
 {"vconcat":[
  {"width":606,"height":88,"data":{"values":[{"x":1198,"y":32,"t":"Output Model"}]},"mark":{"type":"text","fontSize":21,"fontWeight":"bold","color":"#000000","baseline":"middle","align":"center"},
   "encoding":{"x":{"field":"x","type":"quantitative","scale":{"domain":[930,1536],"nice":false,"zero":false},"axis":null},"y":{"field":"y","type":"quantitative","scale":{"domain":[0,88],"nice":false,"zero":false,"reverse":true},"axis":null},"text":{"field":"t"}}},
  {"width":606,"height":369,"view":{"stroke":"#3a3a3a","fill":"white"},
   "data":{"name":"perf"},
   "mark":{"type":"line","strokeWidth":2},
   "encoding":{
    "x":{"field":"e","type":"quantitative","scale":{"domain":[0,100],"nice":false,"zero":false},"axis":{"values":[0,10,20,30,40,50,60,70,80,90,100],"title":"100 Epochs","grid":false,"domain":false,"ticks":false,"labelPadding":7,"labelFontSize":13.5,"labelColor":"#404040","titleFontSize":16,"titleFontWeight":"normal","titleColor":"#404040","titlePadding":10}},
    "y":{"field":"p","type":"quantitative","scale":{"type":"log","domain":[1e-18,1],"nice":false},"axis":{"values":[1,1e-2,1e-4,1e-6,1e-8,1e-10,1e-12,1e-14,1e-16,1e-18],"labelExpr":"'10' + (datum.value > 0.5 ? '⁰' : '⁻' + (round(-log(datum.value)/LN10) >= 10 ? '¹' : '') + ['⁰','¹','²','³','⁴','⁵','⁶','⁷','⁸','⁹'][round(-log(datum.value)/LN10) % 10])","title":"Performance","grid":false,"domain":false,"ticks":false,"labelPadding":8,"labelFontSize":13.5,"labelColor":"#404040","titleFontSize":14,"titleFontWeight":"normal","titleColor":"#404040","titlePadding":12}},
    "color":{"field":"s","type":"nominal","scale":{"domain":["10 Km","20 Km","35 Km"],"range":["#1a1ae6","#ff1a1a","#ff1aff"]},
     "legend":{"orient":"none","legendX":202,"legendY":96,"title":null,"labelExpr":"datum.label == '10 Km' ? '10 Km = Train Performance is 4.21774e-18, Goal is 0' : datum.label == '20 Km' ? '20 Km = Train Performance is 2.81559e-18, Goal is 0' : '35 Km = Train Performance is 3.61909e-18, Goal is 0'","labelFontSize":14.3,"labelColor":"#262626","labelLimit":600,"fillColor":"white","strokeColor":"#404040","padding":3,"rowPadding":1.5,"symbolType":"M-3.2,0L3.2,0","symbolSize":121,"symbolOffset":12,"labelOffset":15,"symbolStrokeWidth":2}}
   }}
 ],"spacing":0,"bounds":"flush"},
 {"width":608,"height":353,"view":{"stroke":"#555555","fill":"white"},
  "title":{"text":"Comparison for the Protection Distance = 10 km","font":"DejaVu Sans","fontSize":17.5,"fontWeight":"bold","offset":-4,"color":"#111111"},
  "data":{"name":"cdf"},
  "layer":[
   {"mark":{"type":"line","opacity":0},
    "encoding":{
     "x":{"field":"x","type":"quantitative","scale":{"domain":[-60,0],"nice":false,"zero":false},"axis":{"orient":"top","values":[-58,-56,-54,-52,-48,-46,-44,-42,-38,-36,-34,-32,-28,-26,-24,-22,-18,-16,-14,-12,-8,-6,-4,-2],"grid":true,"gridDash":[1,2],"gridColor":"#c4c4c4","labels":false,"ticks":false,"domain":false,"title":null}},
     "y":{"field":"y","type":"quantitative","scale":{"domain":[0,1],"nice":false,"zero":false},"axis":{"orient":"right","values":[0.02,0.04,0.06,0.08,0.12,0.14,0.16,0.18,0.22,0.24,0.26,0.28,0.32,0.34,0.36,0.38,0.42,0.44,0.46,0.48,0.52,0.54,0.56,0.58,0.62,0.64,0.66,0.68,0.72,0.74,0.76,0.78,0.82,0.84,0.86,0.88,0.92,0.94,0.96,0.98],"grid":true,"gridDash":[1,2],"gridColor":"#c4c4c4","labels":false,"ticks":false,"domain":false,"title":null}}}},
   {"transform":[{"filter":"datum.s != 'PC'"}],
    "mark":{"type":"line","strokeWidth":1.5,"interpolate":"monotone"},
    "encoding":{
     "x":{"field":"x","type":"quantitative","axis":{"values":[-60,-50,-40,-30,-20,-10,0],"labelExpr":"replace(datum.label, '−', '-')","grid":true,"gridColor":"#d6d6d6","domain":false,"ticks":false,"labelFontSize":16.5,"labelColor":"#222222","labelPadding":6,"title":"INR (dBm)","titleFontSize":19.5,"titleFontWeight":"normal","titleColor":"#222222","titlePadding":5}},
     "y":{"field":"y","type":"quantitative","axis":{"values":[0,0.1,0.2,0.3,0.4,0.5,0.6,0.7,0.8,0.9,1],"format":"~g","grid":true,"gridColor":"#d6d6d6","domain":false,"ticks":false,"labelFontSize":16.5,"labelColor":"#222222","labelPadding":5,"title":"Predicted Interference Accurate Probability","titleFontSize":16,"titleFontWeight":"normal","titleColor":"#222222","titlePadding":17}},
     "color":{"field":"s","type":"nominal","scale":{"domain":["RBFNN","GRNN","R30","R20","R15","PC"],"range":["#2323dc","#ff1e1e","#b01aa0","#e3b5f2","#f22ad9","#3c3c3c"]},
      "legend":{"orient":"top-left","offset":9,"title":null,"labelExpr":"datum.label == 'R30' ? 'Raw - Data (θ = 30°)' : datum.label == 'R20' ? 'Raw - Data (θ = 20°)' : datum.label == 'R15' ? 'Raw - Data (θ = 15°)' : datum.label == 'PC' ? 'Protection criterion (INR) -12.2 dB' : datum.label","labelFont":"DejaVu Sans","labelFontWeight":"bold","labelFontSize":13.5,"labelColor":"#111111","labelLimit":400,"fillColor":"white","strokeColor":"#333333","padding":4,"rowPadding":4.5,"symbolType":"M-3,0L3,0","symbolSize":121,"symbolOffset":11,"labelOffset":13,"symbolStrokeWidth":1.5}}}},
   {"transform":[{"filter":"datum.s == 'PC'"}],
    "mark":{"type":"line","strokeWidth":1.2},
    "encoding":{
     "x":{"field":"x","type":"quantitative","axis":null},
     "y":{"field":"y","type":"quantitative","axis":null},
     "color":{"field":"s","type":"nominal","scale":{"domain":["RBFNN","GRNN","R30","R20","R15","PC"],"range":["#2323dc","#ff1e1e","#b01aa0","#e3b5f2","#f22ad9","#3c3c3c"]},"legend":null}}},
   {"transform":[{"filter":"datum.s == 'RBFNN' || datum.s == 'GRNN'"}],
    "mark":{"type":"point","filled":true,"size":12,"opacity":1},
    "encoding":{
     "x":{"field":"x","type":"quantitative","axis":null},
     "y":{"field":"y","type":"quantitative","axis":null},
     "color":{"field":"s","type":"nominal","scale":{"domain":["RBFNN","GRNN","R30","R20","R15","PC"],"range":["#2323dc","#ff1e1e","#b01aa0","#e3b5f2","#f22ad9","#3c3c3c"]},"legend":null}}}
  ],
  "resolve":{"axis":{"x":"independent","y":"independent"}}}
],"spacing":539,"bounds":"flush","resolve":{"scale":{"color":"independent","shape":"independent","strokeDash":"independent","size":"independent"},"legend":{"color":"independent","shape":"independent","strokeDash":"independent","size":"independent"}}}
]
}
